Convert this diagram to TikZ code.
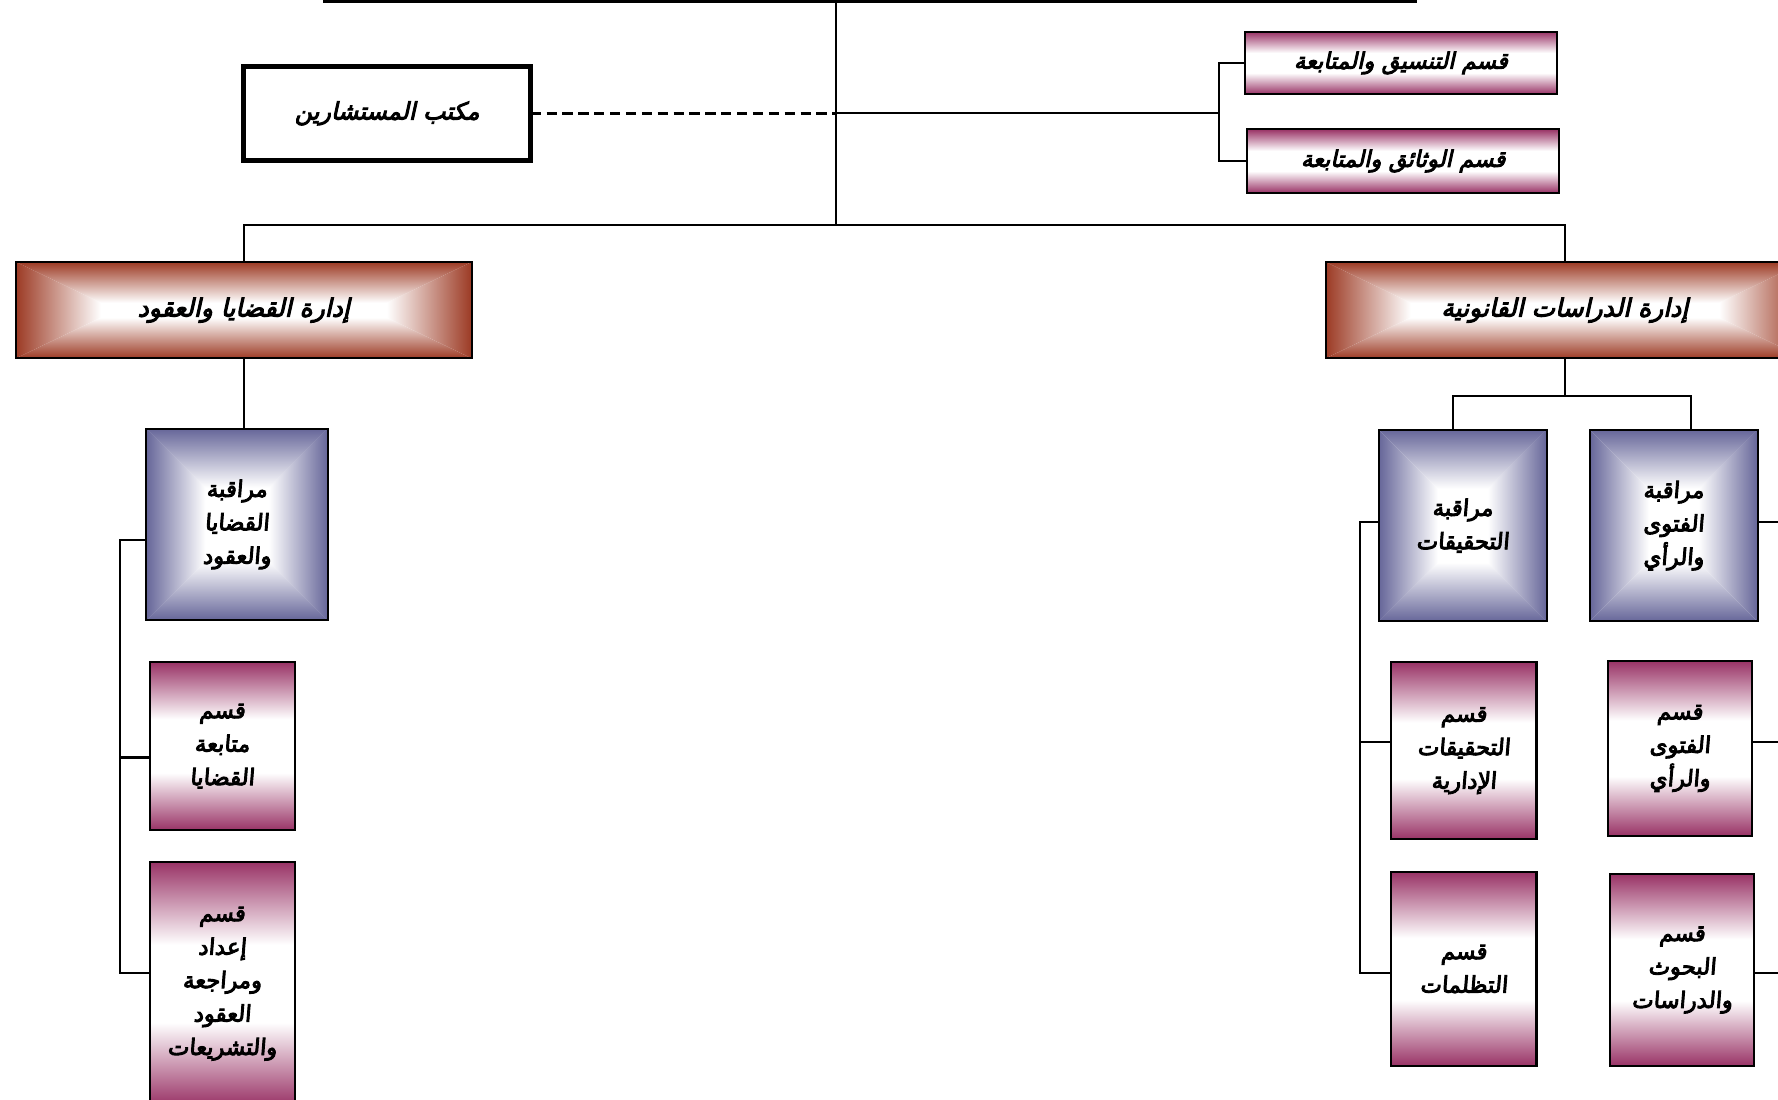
\documentclass[tikz,border=0pt]{standalone}
\usepackage{fontspec}
\TeXXeTstate=1
\newfontfamily\arslant[Script=Arabic,FakeBold=4,FakeSlant=0.22]{DejaVu Sans}
\newfontfamily\arup[Script=Arabic,FakeBold=4,FakeSlant=0.08]{DejaVu Sans}
\usetikzlibrary{calc}
\definecolor{brn}{RGB}{156,58,36}
\definecolor{blu}{RGB}{102,102,153}
\definecolor{mar}{RGB}{153,51,102}
\pgfdeclareverticalshading{maroonband}{100bp}{color(0bp)=(mar); color(25bp)=(mar); color(42bp)=(white); color(58bp)=(white); color(75bp)=(mar); color(100bp)=(mar)}
\newcommand\rtl[1]{\beginR #1\endR}
\newcommand\boxshading[3]{%
  \coordinate (bsw) at (path picture bounding box.south west);
  \coordinate (bne) at (path picture bounding box.north east);
  \coordinate (isw) at ($(bsw)+(#2,#3)$);
  \coordinate (ine) at ($(bne)-(#2,#3)$);
  \fill[white] (bsw) rectangle (bne);
  \shade[left color=#1,right color=white] (bsw) -- (isw) -- (isw|-ine) -- (bsw|-bne) -- cycle;
  \shade[left color=white,right color=#1] (bne|-bsw) -- (ine|-isw) -- (ine) -- (bne) -- cycle;
  \shade[bottom color=#1,top color=white] (bsw) -- (bne|-bsw) -- (ine|-isw) -- (isw) -- cycle;
  \shade[top color=#1,bottom color=white] (bsw|-bne) -- (bne) -- (ine) -- (isw|-ine) -- cycle;
}
\tikzset{
  conn/.style={line width=1.8pt},
  basebox/.style={draw, line width=1.8pt, rectangle, inner sep=0pt, outer sep=0pt, align=center},
  mushbox/.style={basebox, line width=4.5pt, fill=white, font=\arslant\fontsize{21}{26}\selectfont},
  brownbox/.style={basebox, path picture={\boxshading{brn}{75pt}{36pt}}, font=\arslant\fontsize{22}{26}\selectfont},
  bluebox/.style={basebox, path picture={\boxshading{blu}{52pt}{52pt}}, font=\arup\fontsize{20}{29.5}\selectfont},
  marbox/.style={basebox, shade, shading=maroonband, font=\arup\fontsize{20}{29.5}\selectfont},
  marwide/.style={basebox, shade, shading=maroonband, font=\arslant\fontsize{20}{26}\selectfont},
}
\begin{document}
\begin{tikzpicture}[x=1pt,y=-1pt]
\clip (0,0) rectangle (1568,970);
% junctions
\coordinate (hl) at (285,1.2);
\coordinate (hr) at (1250,1.2);
\coordinate (t0) at (737,1.2);
\coordinate (j0) at (737,100);
\coordinate (j1) at (737,198);
\coordinate (jr) at (1075,100);
\coordinate (jd) at (1380,349);
\coordinate (jdl) at (1281,349);
\coordinate (jdr) at (1491,349);
\coordinate (lbt) at (106,476);
\coordinate (lb2) at (106,668);
\coordinate (lbb) at (106,858);
\coordinate (rbt) at (1199,460);
\coordinate (rb2) at (1199,654);
\coordinate (rbb) at (1199,858);
\coordinate (xr1) at (1585,460);
\coordinate (xr2) at (1585,654);
\coordinate (xr3) at (1585,858);

% nodes
\node[mushbox, minimum width=253pt, minimum height=83pt] (mush) at (341.5,100) {\rtl{مكتب المستشارين}};
\node[marwide, minimum width=275pt, minimum height=55pt] (tans) at (1235.5,55.5) {\rtl{قسم التنسيق والمتابعة}};
\node[marwide, minimum width=275pt, minimum height=56pt] (wath) at (1237.5,142) {\rtl{قسم الوثائق والمتابعة}};
\node[brownbox, minimum width=402pt, minimum height=85pt] (qad) at (215,273.5) {\rtl{إدارة القضايا والعقود}};
\node[brownbox, minimum width=422pt, minimum height=85pt] (dir) at (1380,273.5) {\rtl{إدارة الدراسات القانونية}};

\node[bluebox, minimum width=160pt, minimum height=169pt] (mq) at (209,462.5) {\rtl{مراقبة}\\\rtl{القضايا}\\\rtl{والعقود}};
\node[marbox, minimum width=128pt, minimum height=148pt] (mtq) at (196,658) {\rtl{قسم}\\\rtl{متابعة}\\\rtl{القضايا}};
\node[marbox, minimum width=128pt, minimum height=215pt] (iad) at (196,867.5) {\rtl{قسم}\\\rtl{إعداد}\\\rtl{ومراجعة}\\\rtl{العقود}\\\rtl{والتشريعات}};

\node[bluebox, minimum width=148pt, minimum height=169pt] (mt) at (1290,463.5) {\rtl{مراقبة}\\\rtl{التحقيقات}};
\node[bluebox, minimum width=148pt, minimum height=169pt] (mf) at (1476,463.5) {\rtl{مراقبة}\\\rtl{الفتوى}\\\rtl{والرأي}};
\node[marbox, minimum width=128pt, minimum height=156pt] (qt) at (1291,662) {\rtl{قسم}\\\rtl{التحقيقات}\\\rtl{الإدارية}};
\node[marbox, minimum width=128pt, minimum height=171pt] (qz) at (1291,854.5) {\rtl{قسم}\\\rtl{التظلمات}};
\node[marbox, minimum width=127pt, minimum height=154pt] (qf) at (1481.5,660) {\rtl{قسم}\\\rtl{الفتوى}\\\rtl{والرأي}};
\node[marbox, minimum width=127pt, minimum height=169pt] (qb) at (1483.5,855.5) {\rtl{قسم}\\\rtl{البحوث}\\\rtl{والدراسات}};

% connectors
\draw[line width=2.4pt] (hl) -- (hr);
\draw[conn] (t0) -- (j1);
\draw[conn, dash pattern=on 9pt off 5pt, line width=2pt] (mush.east) -- (j0);
\draw[conn] (j0) -- (jr);
\draw[conn] (tans.west) -| (jr) |- (wath.west);
\draw[conn] (qad.north) |- (j1) -| (dir.north);
\draw[conn] (qad.south) -- (qad.south |- mq.north);
\draw[conn] (lbt -| mq.west) -- (lbt) -- (lbb) -- (lbb -| iad.west);
\draw[conn] (lb2) -- (lb2 -| mtq.west);
\draw[conn] (dir.south) -- (jd);
\draw[conn] (jdl |- mt.north) -- (jdl) -- (jdr) -- (jdr |- mf.north);
\draw[conn] (rbt -| mt.west) -- (rbt) -- (rbb) -- (rbb -| qz.west);
\draw[conn] (rb2) -- (rb2 -| qt.west);
\draw[conn] (xr1 -| mf.east) -- (xr1) -- (xr3) -- (xr3 -| qb.east);
\draw[conn] (xr2 -| qf.east) -- (xr2);
\end{tikzpicture}
\end{document}
